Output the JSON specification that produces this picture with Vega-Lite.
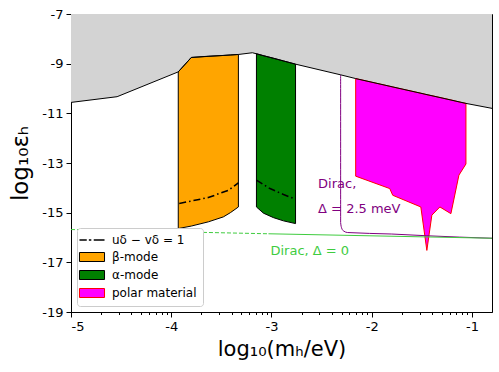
{
  "$schema": "https://vega.github.io/schema/vega-lite/v6.json",
  "autosize": {"type": "none"},
  "width": 421,
  "height": 298,
  "padding": {"left": 71, "top": 14, "right": 7, "bottom": 60},
  "background": "white",
  "config": {
    "view": {"stroke": "black", "strokeWidth": 1},
    "font": "DejaVu Sans",
    "axis": {
      "domainColor": "black", "tickColor": "black", "labelColor": "black", "titleColor": "black",
      "grid": false, "labelFont": "DejaVu Sans", "titleFont": "DejaVu Sans",
      "labelFontSize": 13, "titleFontSize": 21, "titleFontWeight": "normal", "tickSize": 5
    }
  },
  "datasets": {
    "bound": [
      {"x": -5.0, "y": -10.56}, {"x": -4.54, "y": -10.33}, {"x": -3.93, "y": -9.33},
      {"x": -3.80, "y": -8.75}, {"x": -3.33, "y": -8.63}, {"x": -3.19, "y": -8.56},
      {"x": -2.76, "y": -9.02}, {"x": -2.31, "y": -9.45}, {"x": -2.16, "y": -9.60},
      {"x": -1.06, "y": -10.60}, {"x": -0.8, "y": -10.80}
    ],
    "beta": [
      {"x": -3.93, "lo": -15.64, "hi": -9.33, "c": "β-mode"}, {"x": -3.80, "lo": -15.54, "hi": -8.75, "c": "β-mode"},
      {"x": -3.63, "lo": -15.37, "hi": -8.70, "c": "β-mode"}, {"x": -3.48, "lo": -15.17, "hi": -8.67, "c": "β-mode"},
      {"x": -3.41, "lo": -15.00, "hi": -8.65, "c": "β-mode"}, {"x": -3.33, "lo": -14.77, "hi": -8.63, "c": "β-mode"}
    ],
    "alpha": [
      {"x": -3.15, "lo": -14.77, "hi": -8.60}, {"x": -3.08, "lo": -15.02, "hi": -8.68},
      {"x": -2.98, "lo": -15.20, "hi": -8.78}, {"x": -2.88, "lo": -15.33, "hi": -8.89},
      {"x": -2.76, "lo": -15.44, "hi": -9.02}
    ],
    "polar": [
      {"x": -2.16, "lo": -13.53, "hi": -9.60}, {"x": -1.82, "lo": -14.03, "hi": -9.91},
      {"x": -1.79, "lo": -14.30, "hi": -9.94}, {"x": -1.51, "lo": -14.77, "hi": -10.19},
      {"x": -1.45, "lo": -16.52, "hi": -10.25}, {"x": -1.40, "lo": -15.10, "hi": -10.29},
      {"x": -1.32, "lo": -14.77, "hi": -10.36}, {"x": -1.21, "lo": -15.04, "hi": -10.46},
      {"x": -1.13, "lo": -13.49, "hi": -10.54}, {"x": -1.06, "lo": -13.04, "hi": -10.60}
    ],
    "ddbeta": [
      {"x": -3.92, "y": -14.63}, {"x": -3.63, "y": -14.39}, {"x": -3.43, "y": -14.10}, {"x": -3.33, "y": -13.80}
    ],
    "ddalpha": [
      {"x": -3.15, "y": -13.69}, {"x": -3.015, "y": -14.03}, {"x": -2.88, "y": -14.27}, {"x": -2.76, "y": -14.46}
    ],
    "dirac25": [
      {"o": 1, "x": -2.31, "y": -9.45}, {"o": 2, "x": -2.31, "y": -15.40},
      {"o": 3, "x": -2.30, "y": -15.62}, {"o": 4, "x": -2.28, "y": -15.74},
      {"o": 5, "x": -2.24, "y": -15.80}, {"o": 6, "x": -1.80, "y": -15.86},
      {"o": 7, "x": -1.45, "y": -15.93}, {"o": 8, "x": -0.80, "y": -16.03}
    ],
    "dirac0dash": [{"x": -5.0, "y": -15.68}, {"x": -3.03, "y": -15.85}],
    "dirac0solid": [{"x": -3.03, "y": -15.85}, {"x": -0.8, "y": -16.03}],
    "purpletext": [
      {"x": -2.535, "y": -14.02, "t": "Dirac,"},
      {"x": -2.535, "y": -15.0, "t": "Δ = 2.5 meV"}
    ],
    "greentext": [{"x": -3.01, "y": -16.72, "t": "Dirac, Δ = 0"}]
  },
  "resolve": {"axis": {"x": "independent"}},
  "layer": [
    {
      "data": {"name": "bound"},
      "mark": {"type": "area", "orient": "vertical", "color": "lightgray"},
      "encoding": {
        "x": {"field": "x", "type": "quantitative", "scale": {"domain": [-5, -0.8], "nice": false, "zero": false},
          "axis": {"orient": "bottom", "values": [-4.69897, -4.52288, -4.39794, -4.30103, -4.22185, -4.1549, -4.09691, -4.04576,
            -3.69897, -3.52288, -3.39794, -3.30103, -3.22185, -3.1549, -3.09691, -3.04576,
            -2.69897, -2.52288, -2.39794, -2.30103, -2.22185, -2.1549, -2.09691, -2.04576,
            -1.69897, -1.52288, -1.39794, -1.30103, -1.22185, -1.1549, -1.09691, -1.04576],
            "labels": false, "domain": false, "tickSize": 2.5, "title": null}},
        "y": {"field": "y", "type": "quantitative", "scale": {"domain": [-19, -7], "nice": false, "zero": false},
          "axis": {"values": [-19, -17, -15, -13, -11, -9, -7], "labelExpr": "toString(datum.value)",
            "title": "log₁₀εₕ", "titleFontSize": 23, "titlePadding": 9, "labelPadding": 3}},
        "y2": {"datum": -7}
      }
    },
    {
      "data": {"name": "beta"},
      "mark": {"type": "area", "orient": "vertical", "stroke": "black", "strokeWidth": 1, "opacity": 1},
      "encoding": {
        "x": {"field": "x", "type": "quantitative",
          "axis": {"orient": "bottom", "values": [-5, -4, -3, -2, -1], "labelExpr": "toString(datum.value)",
            "title": "log₁₀(mₕ/eV)", "titlePadding": 5, "labelPadding": 3}},
        "y": {"field": "lo", "type": "quantitative"},
        "y2": {"field": "hi"},
        "color": {"field": "c", "type": "nominal",
          "scale": {"domain": ["uδ − vδ = 1", "β-mode", "α-mode", "polar material"],
                    "range": ["black", "orange", "green", "magenta"]},
          "legend": {
            "title": null, "orient": "bottom-left", "offset": 6,
            "strokeColor": "#cccccc", "fillColor": "white", "cornerRadius": 3, "padding": 6,
            "symbolType": {"expr": "datum.index === 0 ? 'M-1.67,-0.09H-0.7V0.09H-1.67Z M-0.42,-0.09H-0.09V0.09H-0.42Z M0.23,-0.09H1.67V0.09H0.23Z' : 'M-1.67,-0.6H1.67V0.6H-1.67Z'"},
            "symbolStrokeColor": {"expr": "datum.index === 3 ? 'red' : 'black'"},
            "symbolStrokeWidth": {"expr": "datum.index === 0 ? 0 : 1"},
            "symbolSize": 225, "symbolOffset": 3, "labelOffset": 14, "rowPadding": 4,
            "symbolOpacity": 1,
            "labelFontSize": 12, "labelFont": "DejaVu Sans", "labelColor": "black"
          }}
      }
    },
    {
      "data": {"name": "alpha"},
      "mark": {"type": "area", "orient": "vertical", "stroke": "black", "strokeWidth": 1, "fill": "green"},
      "encoding": {
        "x": {"field": "x", "type": "quantitative", "axis": null},
        "y": {"field": "lo", "type": "quantitative"},
        "y2": {"field": "hi"}
      }
    },
    {
      "data": {"name": "polar"},
      "mark": {"type": "area", "orient": "vertical", "stroke": "red", "strokeWidth": 1, "fill": "magenta"},
      "encoding": {
        "x": {"field": "x", "type": "quantitative", "axis": null},
        "y": {"field": "lo", "type": "quantitative"},
        "y2": {"field": "hi"}
      }
    },
    {
      "data": {"name": "ddbeta"},
      "mark": {"type": "line", "color": "black", "strokeWidth": 1.6, "strokeDash": [7, 3, 1.5, 3]},
      "encoding": {
        "x": {"field": "x", "type": "quantitative", "axis": null},
        "y": {"field": "y", "type": "quantitative"}
      }
    },
    {
      "data": {"name": "ddalpha"},
      "mark": {"type": "line", "color": "black", "strokeWidth": 1.6, "strokeDash": [7, 3, 1.5, 3]},
      "encoding": {
        "x": {"field": "x", "type": "quantitative", "axis": null},
        "y": {"field": "y", "type": "quantitative"}
      }
    },
    {
      "data": {"name": "dirac25"},
      "mark": {"type": "line", "color": "purple", "strokeWidth": 1, "interpolate": "monotone"},
      "encoding": {
        "x": {"field": "x", "type": "quantitative", "axis": null},
        "y": {"field": "y", "type": "quantitative"},
        "order": {"field": "o", "type": "quantitative"}
      }
    },
    {
      "data": {"name": "dirac0dash"},
      "mark": {"type": "line", "color": "#3fcc3f", "strokeWidth": 1, "strokeDash": [4, 2]},
      "encoding": {
        "x": {"field": "x", "type": "quantitative", "axis": null},
        "y": {"field": "y", "type": "quantitative"}
      }
    },
    {
      "data": {"name": "dirac0solid"},
      "mark": {"type": "line", "color": "#3fcc3f", "strokeWidth": 1},
      "encoding": {
        "x": {"field": "x", "type": "quantitative", "axis": null},
        "y": {"field": "y", "type": "quantitative"}
      }
    },
    {
      "data": {"name": "bound"},
      "mark": {"type": "line", "color": "black", "strokeWidth": 1},
      "encoding": {
        "x": {"field": "x", "type": "quantitative", "axis": null},
        "y": {"field": "y", "type": "quantitative"}
      }
    },
    {
      "data": {"name": "purpletext"},
      "mark": {"type": "text", "color": "purple", "fontSize": 13, "align": "left", "baseline": "alphabetic", "font": "DejaVu Sans"},
      "encoding": {
        "x": {"field": "x", "type": "quantitative", "axis": null},
        "y": {"field": "y", "type": "quantitative"},
        "text": {"field": "t"}
      }
    },
    {
      "data": {"name": "greentext"},
      "mark": {"type": "text", "color": "#3fcc3f", "fontSize": 13, "align": "left", "baseline": "alphabetic", "font": "DejaVu Sans"},
      "encoding": {
        "x": {"field": "x", "type": "quantitative", "axis": null},
        "y": {"field": "y", "type": "quantitative"},
        "text": {"field": "t"}
      }
    }
  ]
}
